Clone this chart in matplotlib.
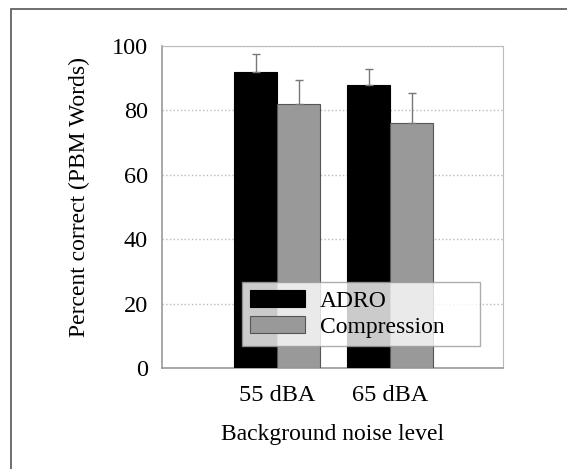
import matplotlib.pyplot as plt
import numpy as np
from matplotlib.patches import Rectangle

levels = ['55 dBA', '65 dBA']
adro = [92, 88]
adro_err = [5.5, 5]
compression = [82, 76]
compression_err = [7.5, 9.5]

plt.rcParams['font.family'] = ['Liberation Serif', 'DejaVu Serif']

fig = plt.figure(figsize=(5.67, 4.69), dpi=100)
fig.patches.append(Rectangle((11 / 567, -0.01), 1.0, 1 - 9 / 469 + 0.01,
                             transform=fig.transFigure, fill=False,
                             edgecolor='#555555', linewidth=1.2))
ax = fig.add_axes([162 / 567, 1 - 368 / 469, 341 / 567, 322 / 469])

x = np.arange(len(levels))
w = 0.38
ax.bar(x - w / 2, adro, w, color='black', edgecolor='black', linewidth=0.8,
       yerr=[[0, 0], adro_err], error_kw=dict(ecolor='#777777', elinewidth=1, capsize=3, capthick=1),
       label='ADRO', zorder=3)
ax.bar(x + w / 2, compression, w, color='#999999', edgecolor='#555555', linewidth=0.8,
       yerr=[[0, 0], compression_err], error_kw=dict(ecolor='#777777', elinewidth=1, capsize=3, capthick=1),
       label='Compression', zorder=3)

ax.set_xlim(-1.02, 2.0)
ax.set_ylim(0, 100)
ax.set_yticks([0, 20, 40, 60, 80, 100])
ax.set_xticks(x)
ax.set_xticklabels(levels)
ax.tick_params(axis='both', length=0, labelsize=17.5)
ax.tick_params(axis='x', pad=12)
ax.tick_params(axis='y', pad=10)
ax.yaxis.grid(True, linestyle=':', color='#bbbbbb', linewidth=1)
ax.set_axisbelow(True)
for s in ['top', 'right']:
    ax.spines[s].set_color('#bbbbbb')
for s in ['left', 'bottom']:
    ax.spines[s].set_color('#999999')
    ax.spines[s].set_linewidth(1.2)

ax.set_xlabel('Background noise level', fontsize=17, labelpad=13)
ax.set_ylabel('Percent correct (PBM Words)', fontsize=17)
ax.yaxis.set_label_coords(-0.21, 0.53)

leg = ax.legend(loc='lower left', bbox_to_anchor=((242 - 162) / 341, (368 - 346) / 322,
                                                   (480 - 242) / 341, (346 - 273) / 322),
                mode='expand', fontsize=17, frameon=True, fancybox=False,
                handlelength=2.3, handleheight=0.68, handletextpad=0.64,
                borderpad=0.35, labelspacing=0.19, borderaxespad=0)
leg.get_frame().set_edgecolor('#999999')
leg.get_frame().set_linewidth(1)
leg.set_zorder(5)

fig.savefig('out.png', dpi=100)
